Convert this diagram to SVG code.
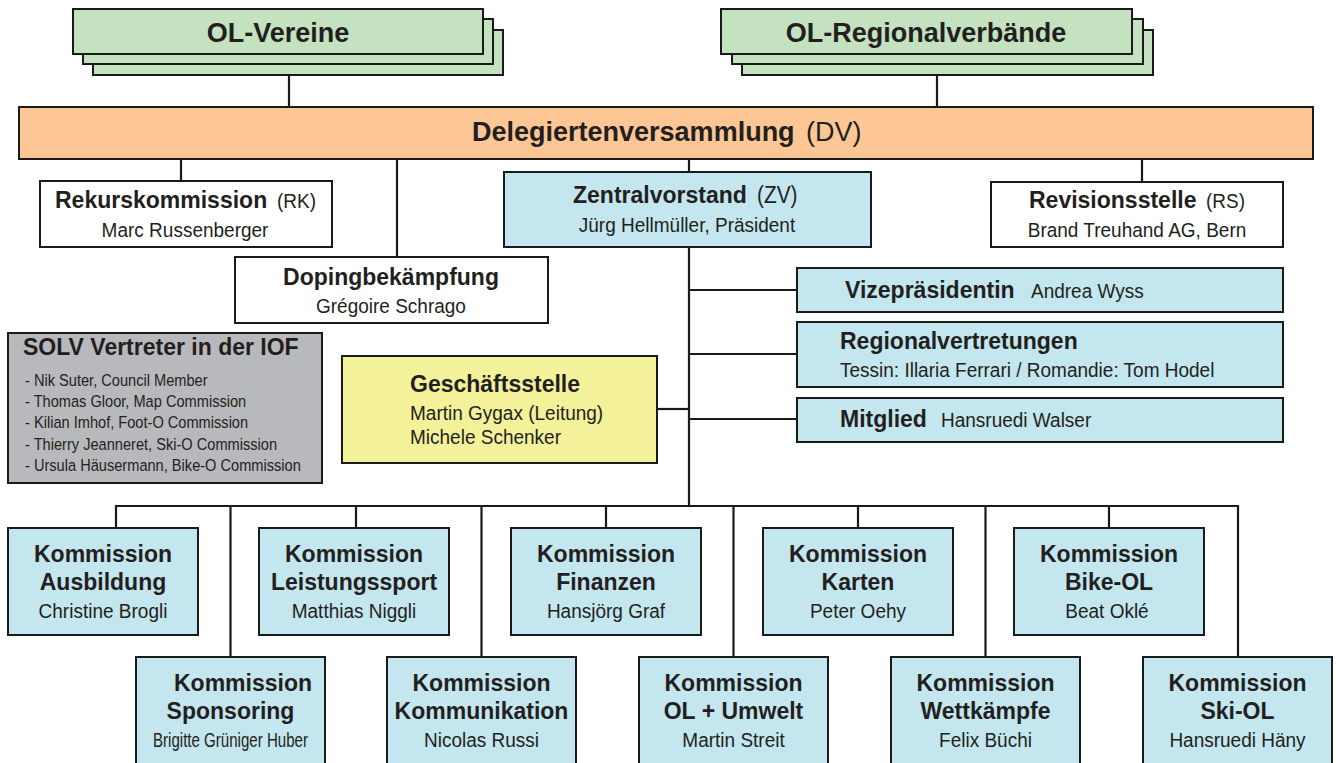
<svg xmlns="http://www.w3.org/2000/svg" width="1336" height="763" viewBox="0 0 1336 763">
<style>
text{font-family:"Liberation Sans",Arial,Helvetica,sans-serif;fill:#231F20}
.b{font-weight:bold;font-size:23px}
.r,.rl{font-size:21px;transform:scaleX(0.905);transform-box:fill-box;transform-origin:center}
.rl{transform-origin:left center}
.rn{font-size:21px}
.t{font-weight:bold;font-size:27px}
.tr{font-size:27px}
.s{font-size:16.5px;transform:scaleX(0.885);transform-box:fill-box;transform-origin:left center}
.m{text-anchor:middle}
.bx{stroke:#1a1a1a;stroke-width:2}
.green{fill:#C4E2BF}
.blue{fill:#C3E6EF}
.white{fill:#FFFFFF}
.orange{fill:#FCC795}
.yellow{fill:#F3F19A}
.gray{fill:#B8B9BC}
.ln{stroke:#1a1a1a;stroke-width:2.2;fill:none}
</style>
<g id="connectors" class="ln">
<path d="M289,75V107"/>
<path d="M937,75V107"/>
<path d="M181,159V181"/>
<path d="M397,159V257"/>
<path d="M689,159V172"/>
<path d="M1142,159V182"/>
<path d="M689,247V506"/>
<path d="M689,290H797M689,354H797M689,419H797"/>
<path d="M657,409H689"/>
<path d="M116,528V506H1238V657"/>
<path d="M356,506V528M606,506V528M858,506V528M1109,506V528"/>
<path d="M230.5,506V657M481.5,506V657M733.5,506V657M985.5,506V657"/>
</g>
<g id="ol-vereine">
<rect class="bx green" x="93" y="30" width="410" height="45"/>
<rect class="bx green" x="83" y="19" width="410" height="45"/>
<rect class="bx green" x="73" y="9" width="410" height="45"/>
<text class="t m" x="278" y="42">OL-Vereine</text>
</g>
<g id="ol-regionalverbaende">
<rect class="bx green" x="742" y="30" width="411" height="45"/>
<rect class="bx green" x="732" y="19" width="411" height="45"/>
<rect class="bx green" x="721" y="9" width="411" height="45"/>
<text class="t m" x="926" y="42">OL-Regionalverbände</text>
</g>
<g id="dv">
<rect class="bx orange" x="19" y="107" width="1294" height="52"/>
<text class="t" x="472" y="141">Delegiertenversammlung</text>
<text class="tr" x="806" y="141">(DV)</text>
</g>
<g id="rk">
<rect class="bx white" x="40" y="181" width="292" height="66"/>
<text class="b" x="55" y="208">Rekurskommission</text>
<text class="rl" x="277" y="208">(RK)</text>
<text class="r m" x="185" y="237">Marc Russenberger</text>
</g>
<g id="doping">
<rect class="bx white" x="235" y="257" width="313" height="66"/>
<text class="b m" x="391" y="285">Dopingbekämpfung</text>
<text class="r m" x="391" y="313">Grégoire Schrago</text>
</g>
<g id="zv">
<rect class="bx blue" x="504" y="172" width="367" height="75"/>
<text class="b" x="573" y="203">Zentralvorstand</text>
<text class="rl" x="757" y="203" style="font-size:23px">(ZV)</text>
<text class="r m" x="687" y="232">Jürg Hellmüller, Präsident</text>
</g>
<g id="rs">
<rect class="bx white" x="991" y="182" width="292" height="65"/>
<text class="b" x="1029" y="208">Revisionsstelle</text>
<text class="rl" x="1206" y="208">(RS)</text>
<text class="r m" x="1137" y="237">Brand Treuhand AG, Bern</text>
</g>
<g id="vize">
<rect class="bx blue" x="797" y="268" width="486" height="44"/>
<text class="b" x="845" y="298">Vizepräsidentin</text>
<text class="rl" x="1031" y="298">Andrea Wyss</text>
</g>
<g id="regional">
<rect class="bx blue" x="797" y="322" width="486" height="65"/>
<text class="b" x="840" y="349">Regionalvertretungen</text>
<text class="rl" x="840" y="377">Tessin: Illaria Ferrari / Romandie: Tom Hodel</text>
</g>
<g id="mitglied">
<rect class="bx blue" x="797" y="398" width="486" height="44"/>
<text class="b" x="840" y="427">Mitglied</text>
<text class="rl" x="941" y="427">Hansruedi Walser</text>
</g>
<g id="geschaeftsstelle">
<rect class="bx yellow" x="342" y="356" width="315" height="107"/>
<text class="b" x="410" y="392">Geschäftsstelle</text>
<text class="rl" x="410" y="420">Martin Gygax (Leitung)</text>
<text class="rl" x="410" y="444">Michele Schenker</text>
</g>
<g id="solv-iof">
<rect class="bx gray" x="8" y="333" width="314" height="150"/>
<text class="b" x="23" y="355">SOLV Vertreter in der IOF</text>
<text class="s" x="25" y="386">- Nik Suter, Council Member</text>
<text class="s" x="25" y="407">- Thomas Gloor, Map Commission</text>
<text class="s" x="25" y="428">- Kilian Imhof, Foot-O Commission</text>
<text class="s" x="25" y="450">- Thierry Jeanneret, Ski-O Commission</text>
<text class="s" x="25" y="471">- Ursula Häusermann, Bike-O Commission</text>
</g>
<g id="k-ausbildung">
<rect class="bx blue" x="8" y="528" width="190" height="107"/>
<text class="b m" x="103" y="562">Kommission</text>
<text class="b m" x="103" y="590">Ausbildung</text>
<text class="r m" x="103" y="618">Christine Brogli</text>
</g>
<g id="k-leistungssport">
<rect class="bx blue" x="259" y="528" width="190" height="107"/>
<text class="b m" x="354" y="562">Kommission</text>
<text class="b m" x="354" y="590">Leistungssport</text>
<text class="r m" x="354" y="618">Matthias Niggli</text>
</g>
<g id="k-finanzen">
<rect class="bx blue" x="511" y="528" width="190" height="107"/>
<text class="b m" x="606" y="562">Kommission</text>
<text class="b m" x="606" y="590">Finanzen</text>
<text class="r m" x="606" y="618">Hansjörg Graf</text>
</g>
<g id="k-karten">
<rect class="bx blue" x="763" y="528" width="190" height="107"/>
<text class="b m" x="858" y="562">Kommission</text>
<text class="b m" x="858" y="590">Karten</text>
<text class="r m" x="858" y="618">Peter Oehy</text>
</g>
<g id="k-bike-ol">
<rect class="bx blue" x="1014" y="528" width="190" height="107"/>
<text class="b m" x="1109" y="562">Kommission</text>
<text class="b m" x="1109" y="590">Bike-OL</text>
<text class="r m" x="1107" y="618">Beat Oklé</text>
</g>
<g id="k-sponsoring">
<rect class="bx blue" x="136" y="657" width="189" height="118"/>
<text class="b m" x="243" y="691">Kommission</text>
<text class="b m" x="230.5" y="719">Sponsoring</text>
<text class="rn m" x="230.5" y="747" textLength="155" lengthAdjust="spacingAndGlyphs">Brigitte Grüniger Huber</text>
</g>
<g id="k-kommunikation">
<rect class="bx blue" x="387" y="657" width="189" height="118"/>
<text class="b m" x="481.5" y="691">Kommission</text>
<text class="b m" x="481.5" y="719">Kommunikation</text>
<text class="r m" x="481.5" y="747">Nicolas Russi</text>
</g>
<g id="k-umwelt">
<rect class="bx blue" x="639" y="657" width="189" height="118"/>
<text class="b m" x="733.5" y="691">Kommission</text>
<text class="b m" x="733.5" y="719">OL + Umwelt</text>
<text class="r m" x="733.5" y="747">Martin Streit</text>
</g>
<g id="k-wettkaempfe">
<rect class="bx blue" x="891" y="657" width="189" height="118"/>
<text class="b m" x="985.5" y="691">Kommission</text>
<text class="b m" x="985.5" y="719">Wettkämpfe</text>
<text class="r m" x="985.5" y="747">Felix Büchi</text>
</g>
<g id="k-ski-ol">
<rect class="bx blue" x="1143" y="657" width="189" height="118"/>
<text class="b m" x="1237.5" y="691">Kommission</text>
<text class="b m" x="1237.5" y="719">Ski-OL</text>
<text class="r m" x="1237.5" y="747">Hansruedi Häny</text>
</g>
</svg>
